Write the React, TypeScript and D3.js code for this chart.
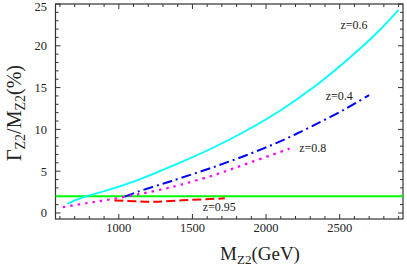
import { useEffect, useRef } from 'react';
import * as d3 from 'd3';

// Z2 width / mass curves for different z values
const massZ06 = [650, 770, 900, 1100, 1400, 1640, 1870, 2100, 2320, 2550, 2750, 2900];
const widthZ06 = [1.1, 1.95, 2.6, 3.75, 5.9, 7.8, 9.9, 12.3, 15.0, 18.3, 21.5, 24.3];

const massZ04 = [1040, 1130, 1310, 1415, 1640, 1870, 2100, 2320, 2550, 2700];
const widthZ04 = [1.95, 2.55, 3.55, 4.15, 5.47, 6.94, 8.6, 10.45, 12.55, 14.1];

const massZ08 = [620, 790, 950, 1150, 1310, 1415, 1640, 1870, 2160];
const widthZ08 = [0.7, 1.2, 1.65, 2.3, 2.9, 3.35, 4.5, 5.9, 7.7];

const massZ095 = [970, 1100, 1250, 1470, 1720];
const widthZ095 = [1.5, 1.4, 1.35, 1.55, 1.75];

const refLevel = 2;

const xTicks = [1000, 1500, 2000, 2500];
const yTicks = [0, 5, 10, 15, 20, 25];

export default function App() {
  const svgRef = useRef<SVGSVGElement>(null);

  useEffect(() => {
    if (!svgRef.current) return;
    const svg = d3.select(svgRef.current);
    svg.selectAll("*").remove();

    const left = 55.5, right = 403, top = 4, bottom = 219;

    const x = d3.scaleLinear().domain([570, 2930]).range([left, right]);
    const y = d3.scaleLinear().domain([-0.72, 25]).range([bottom, top]);

    const font = "'Liberation Serif', 'Times New Roman', serif";

    // frame
    svg.append("rect")
      .attr("x", left).attr("y", top)
      .attr("width", right - left).attr("height", bottom - top)
      .attr("fill", "none").attr("stroke", "#333").attr("stroke-width", 1.2);

    // ticks (inward, all four sides)
    const ticks = svg.append("g").attr("stroke", "#333").attr("stroke-width", 1);
    d3.range(600, 2930, 100).forEach(v => {
      const major = v % 500 === 0;
      const len = major ? 5 : 3;
      ticks.append("line").attr("x1", x(v)).attr("x2", x(v)).attr("y1", bottom).attr("y2", bottom - len);
      ticks.append("line").attr("x1", x(v)).attr("x2", x(v)).attr("y1", top).attr("y2", top + len);
    });
    d3.range(0, 26, 1).forEach(v => {
      const major = v % 5 === 0;
      const len = major ? 5 : 3;
      ticks.append("line").attr("x1", left).attr("x2", left + len).attr("y1", y(v)).attr("y2", y(v));
      ticks.append("line").attr("x1", right).attr("x2", right - len).attr("y1", y(v)).attr("y2", y(v));
    });

    // tick labels
    svg.append("g")
      .selectAll("text")
      .data(xTicks)
      .join("text")
      .attr("x", d => x(d))
      .attr("y", bottom + 13)
      .attr("text-anchor", "middle")
      .attr("font-family", font)
      .attr("font-size", 12.5)
      .attr("fill", "#222")
      .text(d => d);

    svg.append("g")
      .selectAll("text")
      .data(yTicks)
      .join("text")
      .attr("x", left - 8.5)
      .attr("y", d => Math.max(y(d), 6.5))
      .attr("dy", "0.35em")
      .attr("text-anchor", "end")
      .attr("font-family", font)
      .attr("font-size", 12.5)
      .attr("fill", "#222")
      .text(d => d);

    // curves
    const line = d3.line<[number, number]>()
      .x(d => x(d[0]))
      .y(d => y(d[1]))
      .curve(d3.curveCatmullRom.alpha(0.5));

    const zip = (a: number[], b: number[]) => a.map((m, i) => [m, b[i]] as [number, number]);

    svg.append("path")
      .attr("d", line([[570, refLevel], [2930, refLevel]]))
      .attr("fill", "none").attr("stroke", "#00ff00").attr("stroke-width", 2);

    svg.append("path")
      .attr("d", line(zip(massZ06, widthZ06)))
      .attr("fill", "none").attr("stroke", "#00ffff").attr("stroke-width", 1.8);

    svg.append("path")
      .attr("d", line(zip(massZ04, widthZ04)))
      .attr("fill", "none").attr("stroke", "#0000ff").attr("stroke-width", 2)
      .attr("stroke-dasharray", "10,4,2,4");

    svg.append("path")
      .attr("d", line(zip(massZ08, widthZ08)))
      .attr("fill", "none").attr("stroke", "#ff00ff").attr("stroke-width", 2.2)
      .attr("stroke-dasharray", "2.5,5");

    svg.append("path")
      .attr("d", line(zip(massZ095, widthZ095)))
      .attr("fill", "none").attr("stroke", "#ff0000").attr("stroke-width", 2)
      .attr("stroke-dasharray", "9,4");

    // curve labels
    const labels: Array<[string, number, number]> = [
      ["z=0.6", 2505, 22.0],
      ["z=0.4", 2405, 13.5],
      ["z=0.8", 2225, 7.3],
      ["z=0.95", 1570, 0.2],
    ];
    svg.append("g")
      .selectAll("text")
      .data(labels)
      .join("text")
      .attr("x", d => x(d[1]))
      .attr("y", d => y(d[2]))
      .attr("font-family", font)
      .attr("font-size", 12)
      .attr("fill", "#222")
      .text(d => d[0]);

    // axis titles
    const xt = svg.append("text")
      .attr("x", 260)
      .attr("y", 260)
      .attr("text-anchor", "middle")
      .attr("font-family", font)
      .attr("font-size", 19)
      .attr("fill", "#222");
    xt.append("tspan").text("M");
    xt.append("tspan").attr("font-size", 13).attr("dy", 4).text("Z2");
    xt.append("tspan").attr("dy", -4).text("(GeV)");

    const yt = svg.append("text")
      .attr("transform", `translate(21,113) rotate(-90)`)
      .attr("text-anchor", "middle")
      .attr("font-family", font)
      .attr("font-size", 20)
      .attr("fill", "#222");
    yt.append("tspan").text("Γ");
    yt.append("tspan").attr("font-size", 14).attr("dy", 4).text("Z2");
    yt.append("tspan").attr("dy", -4).text("/M");
    yt.append("tspan").attr("font-size", 14).attr("dy", 4).text("Z2");
    yt.append("tspan").attr("dy", -4).text("(%)");
  }, []);

  return (
    <svg
      ref={svgRef}
      width={407}
      height={268}
      style={{ position: 'fixed', left: 0, top: 0, background: '#fff' }}
    />
  );
}
